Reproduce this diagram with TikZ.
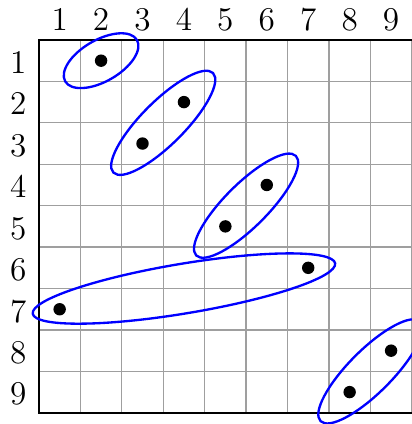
\documentclass[tikz,border=0pt]{standalone}
\usetikzlibrary{positioning}
\tikzset{
  cellgrid/.style={gray!75, line width=0.45pt},
  frameline/.style={black, line width=0.85pt},
  pairloop/.style={blue, line width=0.8pt},
  dot/.style={circle, fill=black, inner sep=0pt, minimum size=0.15cm},
  idx/.style={anchor=base, font=\fontsize{11.4}{13.5}\selectfont, inner sep=0pt}
}
\begin{document}
\begin{tikzpicture}[x=0.5cm,y=0.5cm]
\useasboundingbox (-0.94,-9.27) rectangle (9,0.965);

% grid and frame
\draw[cellgrid, step=0.5cm] (0,-9) grid (9,0);
\draw[frameline] (9,0) -- (0,0) -- (0,-9) -- (9,-9);

% column and row indices
\foreach \i in {1,...,9} {
  \node[idx] (col\i) at (\i-0.5,0.22) {\i};
  \node[idx] (row\i) at (-0.5,0.19-\i) {\i};
}

% points
\node[dot] (p21) at (1.5,-0.5) {};
\node[dot] (p42) at (3.5,-1.5) {};
\node[dot] (p33) at (2.5,-2.5) {};
\node[dot] (p64) at (5.5,-3.5) {};
\node[dot] (p55) at (4.5,-4.5) {};
\node[dot] (p76) at (6.5,-5.5) {};
\node[dot] (p17) at (0.5,-6.5) {};
\node[dot] (p98) at (8.5,-7.5) {};
\node[dot] (p89) at (7.5,-8.5) {};

% loops around the pairs
\draw[pairloop, rotate around={30:(1.5,-0.5)}] (1.5,-0.5) ellipse [x radius=1, y radius=0.5];
\draw[pairloop, rotate around={45:(3,-2)}] (3,-2) ellipse [x radius=1.7, y radius=0.52];
\draw[pairloop, rotate around={45:(5,-4)}] (5,-4) ellipse [x radius=1.7, y radius=0.52];
\draw[pairloop, rotate around={9.46:(3.5,-6)}] (3.5,-6) ellipse [x radius=3.7, y radius=0.6];
\draw[pairloop, rotate around={45:(8,-8)}] (8,-8) ellipse [x radius=1.7, y radius=0.52];
\end{tikzpicture}
\end{document}
